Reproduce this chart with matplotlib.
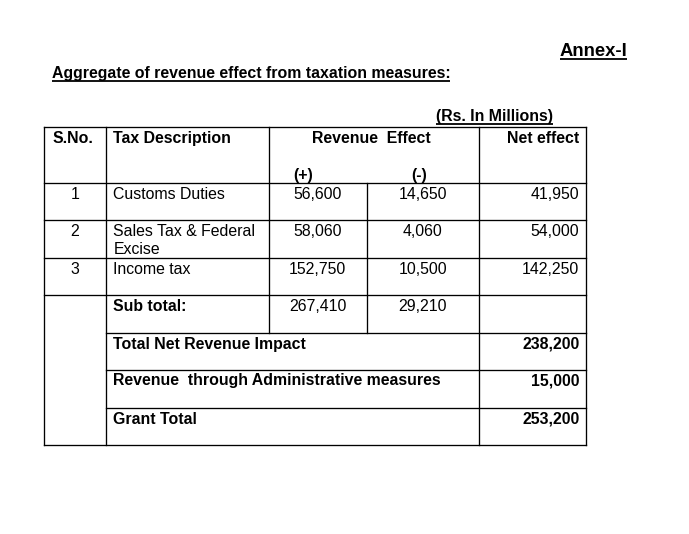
import matplotlib
matplotlib.use("Agg")
import matplotlib.pyplot as plt

# ---------------- data ----------------
annex_label = "Annex-I"
title = "Aggregate of revenue effect from taxation measures:"
unit_label = "(Rs. In Millions)"
header_labels = ["S.No.", "Tax Description", "Revenue  Effect", "Net effect"]
sign_labels = ["(+)", "(-)"]

serials = ["1", "2", "3"]
descriptions = ["Customs Duties", "Sales Tax & Federal\nExcise", "Income tax"]
plus_values = ["56,600", "58,060", "152,750"]
minus_values = ["14,650", "4,060", "10,500"]
net_values = ["41,950", "54,000", "142,250"]

subtotal_label = "Sub total:"
subtotal_values = ["267,410", "29,210"]

summary_labels = ["Total Net Revenue Impact",
                  "Revenue  through Administrative measures",
                  "Grant Total"]
summary_values = ["238,200", "15,000", "253,200"]

# ---------------- layout ----------------
W, H = 689, 534
fig = plt.figure(figsize=(W / 100, H / 100), dpi=100)
fig.patch.set_facecolor("white")
ax = fig.add_axes([0, 0, 1, 1])
ax.set_xlim(0, W)
ax.set_ylim(H, 0)
ax.axis("off")

FONT = ["Liberation Sans", "DejaVu Sans"]
FS = 11.4
LW = 0.95

# column edges
xL, xS, xD, xP, xN, xR = 44.3, 105.7, 268.7, 366.7, 478.7, 586.3
# row edges
yT, yH, y1, y2, y3, y4, y5, y6, yB = 127.3, 183.3, 220.3, 258.3, 295.3, 333.3, 370.3, 408.3, 445.3

renderer = fig.canvas.get_renderer()


def txt(x, y, s, bold=False, ha="left", size=FS, underline=False, lsp=None):
    kw = {}
    if lsp is not None:
        kw["linespacing"] = lsp
    t = ax.text(x, y, s, ha=ha, va="baseline", fontsize=size,
                fontweight="bold" if bold else "normal", family=FONT,
                color="black", **kw)
    if underline:
        bb = t.get_window_extent(renderer=renderer)
        inv = ax.transData.inverted()
        (x0, _), (x1, _) = inv.transform([(bb.x0, 0), (bb.x1, 0)])
        ax.plot([x0, x1], [y + 3.2, y + 3.2], color="black", lw=1.3,
                solid_capstyle="butt")
    return t


def hline(y, x0, x1):
    ax.plot([x0, x1], [y, y], color="black", lw=LW, solid_capstyle="projecting")


def vline(x, y0, y1):
    ax.plot([x, x], [y0, y1], color="black", lw=LW, solid_capstyle="projecting")


# titles
txt(627.3, 56, annex_label, bold=True, ha="right", size=13.3, underline=True)
txt(51.7, 78, title, bold=True, underline=True)
txt(553.3, 120.5, unit_label, bold=True, ha="right", underline=True)

# table grid
for y in [yT, yH, y1, y2, y3, yB]:
    hline(y, xL, xR)
for y in [y4, y5, y6]:
    hline(y, xS, xR)
vline(xL, yT, yB)
vline(xS, yT, yB)
vline(xD, yT, y4)
vline(xP, yH, y4)
vline(xN, yT, yB)
vline(xR, yT, yB)

# header
hb = yT + 16
txt(52.7, hb, header_labels[0], bold=True)
txt(113.3, hb, header_labels[1], bold=True)
txt((xD + xN) / 2 - 2, hb, header_labels[2], bold=True, ha="center")
txt(579.3, hb, header_labels[3], bold=True, ha="right")
txt(293.3, yH - 3.3, sign_labels[0], bold=True)
txt(411, yH - 3.3, sign_labels[1], bold=True)

# body rows
row_tops = [yH, y1, y2]
for i, top in enumerate(row_tops):
    b = top + 16
    txt((xL + xS) / 2, b, serials[i], ha="center")
    lines = descriptions[i].split("\n")
    for k, ln in enumerate(lines):
        txt(113.3, b + k * 17.3, ln)
    txt((xD + xP) / 2, b, plus_values[i], ha="center")
    txt((xP + xN) / 2, b, minus_values[i], ha="center")
    txt(579.3, b, net_values[i], ha="right")

# sub total
b = y3 + 15.5
txt(113.3, b, subtotal_label, bold=True)
txt((xD + xP) / 2, b, subtotal_values[0], ha="center")
txt((xP + xN) / 2, b, subtotal_values[1], ha="center")

# summary rows
for top, lab, val in zip([y4, y5, y6], summary_labels, summary_values):
    b = top + 15.2
    txt(113.3, b, lab, bold=True)
    txt(579.3, b, val, bold=True, ha="right")

fig.savefig("out.png", dpi=100, facecolor="white")
